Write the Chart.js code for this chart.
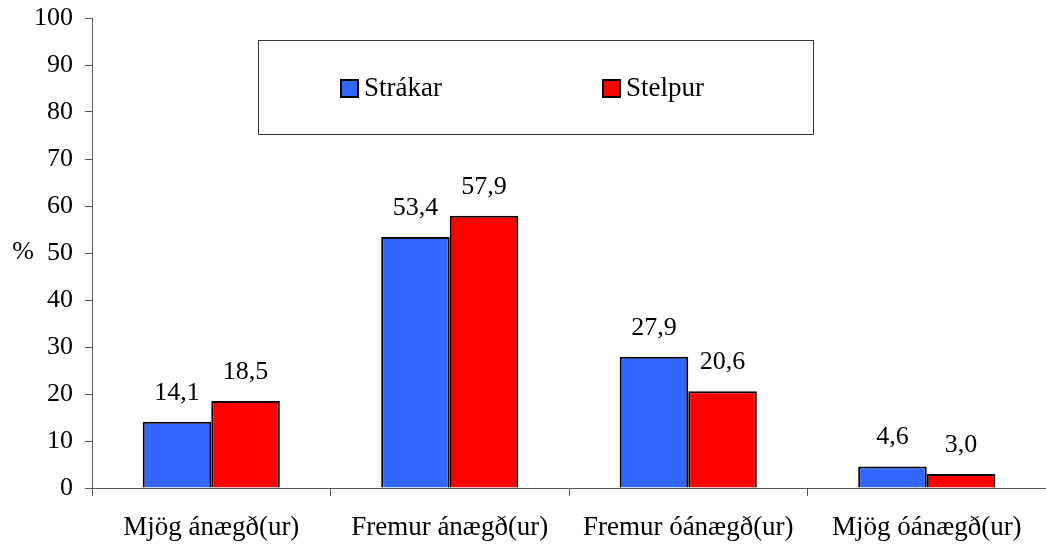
<!DOCTYPE html>
<html>
<head>
<meta charset="utf-8">
<script src="https://cdn.jsdelivr.net/npm/chart.js@4.4.0/dist/chart.umd.min.js"></script>
<style>
  html, body { margin: 0; padding: 0; background: #fff; }
  #wrap { width: 1046px; height: 546px; }
</style>
</head>
<body>
<div id="wrap"><canvas id="chartAnaegja"></canvas></div>
<script>
const categories = ["Mjög ánægð(ur)", "Fremur ánægð(ur)", "Fremur óánægð(ur)", "Mjög óánægð(ur)"];
const strakar = [14.1, 53.4, 27.9, 4.6];
const stelpur = [18.5, 57.9, 20.6, 3.0];
const seriesNames = ["Strákar", "Stelpur"];
const seriesColors = ["#3366FF", "#FF0000"];

const FONT = '"Liberation Serif", "Times New Roman", serif';

// value labels above bars, "14,1" style
const barValues = {
    id: "barValues",
    afterDatasetsDraw(chart) {
        const { ctx } = chart;
        ctx.save();
        ctx.font = "26px " + FONT;
        ctx.fillStyle = "#000";
        ctx.textAlign = "center";
        ctx.textBaseline = "alphabetic";
        chart.data.datasets.forEach((ds, i) => {
            chart.getDatasetMeta(i).data.forEach((bar, j) => {
                ctx.fillText(ds.data[j].toFixed(1).replace(".", ","), bar.x, bar.y - 22);
            });
        });
        ctx.restore();
    }
};

// boxed legend inside the plot + the "%" axis label
const boxLegend = {
    id: "boxLegend",
    afterDraw(chart) {
        const { ctx } = chart;
        ctx.save();
        ctx.strokeStyle = "#333";
        ctx.lineWidth = 1;
        ctx.strokeRect(258.5, 40.5, 555, 94);

        ctx.font = "27px " + FONT;
        ctx.textBaseline = "middle";
        ctx.textAlign = "left";
        const xs = [341, 603];
        seriesNames.forEach((name, i) => {
            ctx.fillStyle = seriesColors[i];
            ctx.fillRect(xs[i], 80, 17, 17);
            ctx.strokeStyle = "#000";
            ctx.lineWidth = 2;
            ctx.strokeRect(xs[i], 80, 17, 17);
            ctx.fillStyle = "#000";
            ctx.fillText(name, xs[i] + 23, 89);
        });

        ctx.font = "26px " + FONT;
        ctx.textAlign = "center";
        ctx.fillText("%", 23, 252);
        ctx.restore();
    }
};

function drawChart() {
    new Chart(document.getElementById("chartAnaegja"), {
        type: "bar",
        data: {
            labels: categories,
            datasets: [
                {
                    label: seriesNames[0],
                    data: strakar,
                    backgroundColor: seriesColors[0],
                    borderColor: "#000",
                    borderWidth: 2,
                },
                {
                    label: seriesNames[1],
                    data: stelpur,
                    backgroundColor: seriesColors[1],
                    borderColor: "#000",
                    borderWidth: 2,
                },
            ]
        },
        options: {
            responsive: true,
            maintainAspectRatio: false,
            animation: false,
            categoryPercentage: 0.575,
            barPercentage: 1,
            layout: {
                padding: { top: 18, right: 0, left: 0, bottom: 0 }
            },
            scales: {
                x: {
                    grid: {
                        display: true,
                        drawOnChartArea: false,
                        drawTicks: true,
                        tickLength: 8,
                        color: "#555",
                    },
                    border: { display: true, color: "#555", width: 1 },
                    ticks: {
                        color: "#000",
                        font: { family: FONT, size: 27 },
                        padding: 16,
                        maxRotation: 0,
                    },
                    afterFit(scale) {
                        scale.height = 58;
                        scale.paddingLeft = 0;
                        scale.paddingRight = 0;
                    }
                },
                y: {
                    min: 0,
                    max: 100,
                    ticks: {
                        stepSize: 10,
                        color: "#000",
                        font: { family: FONT, size: 26 },
                        padding: 12,
                    },
                    grid: {
                        display: true,
                        drawOnChartArea: false,
                        drawTicks: true,
                        tickLength: 7,
                        color: "#555",
                    },
                    border: { display: true, color: "#555", width: 1 },
                    afterFit(scale) {
                        scale.width = 92;
                        scale.paddingTop = 0;
                        scale.paddingBottom = 0;
                    }
                }
            },
            plugins: {
                legend: { display: false },
                title: { display: false },
                tooltip: { enabled: false },
            },
        },
        plugins: [barValues, boxLegend],
    });
}

Promise.all([
    document.fonts.load('26px "Liberation Serif"'),
    document.fonts.load('27px "Liberation Serif"'),
]).then(drawChart, drawChart);
</script>
</body>
</html>
